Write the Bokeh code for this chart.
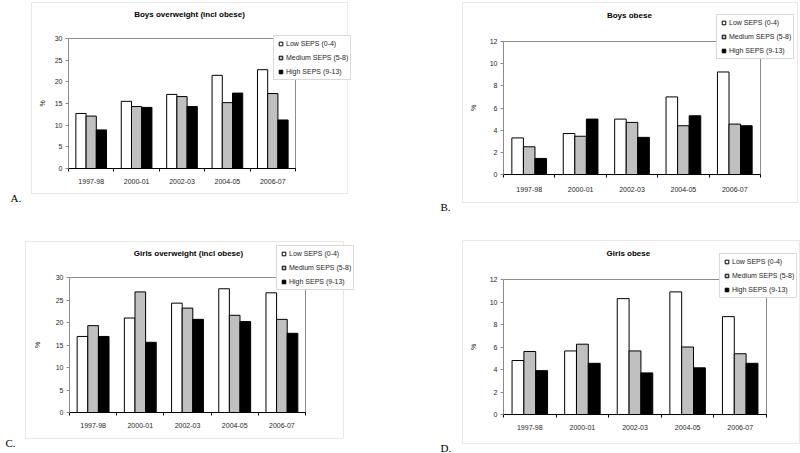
from bokeh.plotting import figure
from bokeh.models import (Range1d, Legend, LegendItem, Label,
                          BoxAnnotation, ColumnDataSource, FixedTicker, GridBox)
from bokeh.embed import file_html
from bokeh.resources import INLINE

years = ["1997-98", "2000-01", "2002-03", "2004-05", "2006-07"]
series_names = ["Low SEPS (0-4)", "Medium SEPS (5-8)", "High SEPS (9-13)"]

boys_ow_low = [12.7, 15.5, 17.1, 21.5, 22.8]
boys_ow_med = [12.1, 14.3, 16.6, 15.2, 17.3]
boys_ow_high = [8.9, 14.1, 14.3, 17.4, 11.2]

boys_ob_low = [3.3, 3.7, 5.0, 7.0, 9.25]
boys_ob_med = [2.5, 3.45, 4.7, 4.4, 4.55]
boys_ob_high = [1.45, 5.0, 3.35, 5.3, 4.4]

girls_ow_low = [16.9, 21.0, 24.3, 27.5, 26.6]
girls_ow_med = [19.3, 26.8, 23.2, 21.6, 20.7]
girls_ow_high = [16.9, 15.6, 20.7, 20.2, 17.6]

girls_ob_low = [4.8, 5.65, 10.3, 10.9, 8.7]
girls_ob_med = [5.6, 6.25, 5.65, 6.0, 5.4]
girls_ob_high = [3.9, 4.55, 3.7, 4.15, 4.55]

SANS = "Liberation Sans"
SERIF = "Liberation Serif"
W, H = 800, 453

# layout of each panel (page pixels)
panels = [
    dict(title="Boys overweight (incl obese)", vals=(boys_ow_low, boys_ow_med, boys_ow_high),
         ymax=30, ystep=5, letter="A.", cell=(0, 0), w=400, h=226,
         L=68, R=105, T=38, B=58, ylab_standoff=6, xlab_standoff=7,
         box=(31, 347, 2, 193), title_xy=(189, 14), leg_xy=(273, 38), letter_xy=(10, 197)),
    dict(title="Boys  obese", vals=(boys_ob_low, boys_ob_med, boys_ob_high),
         ymax=12, ystep=2, letter="B.", cell=(0, 1), w=400, h=226,
         L=103, R=40, T=41, B=52, ylab_standoff=10, xlab_standoff=9,
         box=(462, 797, 2, 202), title_xy=(630, 15), leg_xy=(716, 17), letter_xy=(440, 206)),
    dict(title="Girls overweight (incl obese)", vals=(girls_ow_low, girls_ow_med, girls_ow_high),
         ymax=30, ystep=5, letter="C.", cell=(1, 0), w=400, h=227,
         L=69, R=95, T=51, B=41, ylab_standoff=12, xlab_standoff=7,
         box=(25, 343, 241, 438), title_xy=(188, 253), leg_xy=(276, 248), letter_xy=(5, 442)),
    dict(title="Girls  obese", vals=(girls_ob_low, girls_ob_med, girls_ob_high),
         ymax=12, ystep=2, letter="D.", cell=(1, 1), w=400, h=227,
         L=103, R=34, T=53, B=39, ylab_standoff=10, xlab_standoff=7,
         box=(462, 799, 240, 443), title_xy=(629, 253), leg_xy=(719, 256), letter_xy=(440, 447)),
]

fills = ["#ffffff", "#c0c0c0", "#000000"]
offsets = [-0.225, 0.0, 0.225]
BAR_W = 0.225
LEG_H = 42
FRAME_GRAY = "#8c8c8c"
BOX_GRAY = "#b4b4b4"
TXT = "#1e1e1e"

n_years = len(years)
centers = [i + 0.5 for i in range(n_years)]          # category centres on the x scale
bounds = [float(i) for i in range(n_years + 1)]       # category boundaries (tick marks)


def make_chart(c):
    p = figure(width=c["w"], height=c["h"], x_range=Range1d(0, n_years),
               y_range=Range1d(0, c["ymax"]), output_backend="svg",
               toolbar_location=None, min_border_left=c["L"], min_border_right=c["R"],
               min_border_top=c["T"], min_border_bottom=c["B"])
    p.frame_align = False
    p.background_fill_color = "white"
    p.border_fill_color = "white"
    p.outline_line_color = FRAME_GRAY
    p.xgrid.grid_line_color = None
    p.ygrid.grid_line_color = None

    low, med, high = c["vals"]
    src = ColumnDataSource(dict(
        year=years, low=low, med=med, high=high,
        x_low=[x + offsets[0] for x in centers],
        x_med=[x + offsets[1] for x in centers],
        x_high=[x + offsets[2] for x in centers]))
    for key, col in zip(["low", "med", "high"], fills):
        p.vbar(x="x_" + key, top=key, width=BAR_W, source=src,
               fill_color=col, line_color="black", line_width=1)

    xa = p.xaxis[0]
    xa.ticker = FixedTicker(ticks=centers, minor_ticks=bounds)
    xa.major_label_overrides = {x: y for x, y in zip(centers, years)}
    xa.axis_line_color = "black"
    xa.major_tick_line_color = None
    xa.major_tick_out = 0
    xa.major_tick_in = 0
    xa.minor_tick_line_color = "black"
    xa.minor_tick_out = 3
    xa.minor_tick_in = 0
    xa.major_label_standoff = c["xlab_standoff"]
    xa.major_label_text_font = SANS
    xa.major_label_text_font_size = "7px"
    xa.major_label_text_color = TXT

    ya = p.yaxis[0]
    ya.ticker = FixedTicker(ticks=list(range(0, c["ymax"] + 1, c["ystep"])))
    ya.axis_line_color = FRAME_GRAY
    ya.major_tick_line_color = FRAME_GRAY
    ya.major_tick_out = 3
    ya.major_tick_in = 0
    ya.minor_tick_line_color = None
    ya.major_label_standoff = 3
    ya.major_label_text_font = SANS
    ya.major_label_text_font_size = "7px"
    ya.major_label_text_color = TXT
    ya.axis_label = "%"
    ya.axis_label_text_font = SANS
    ya.axis_label_text_font_size = "7px"
    ya.axis_label_text_font_style = "normal"
    ya.axis_label_text_color = TXT
    ya.axis_label_standoff = c["ylab_standoff"]
    return p


# transparent overlay carrying outer frames, titles, panel letters and legends
ov = figure(width=W, height=H, x_range=Range1d(0, W), y_range=Range1d(H, 0),
            output_backend="svg", toolbar_location=None,
            x_axis_location=None, y_axis_location=None,
            min_border=0, min_border_left=0, min_border_right=0,
            min_border_top=0, min_border_bottom=0)
ov.frame_align = False
ov.background_fill_color = None
ov.border_fill_color = None
ov.outline_line_color = None
ov.xgrid.grid_line_color = None
ov.ygrid.grid_line_color = None

# legend key proxies (hidden renderers; only their legend swatches are shown)
key_renderers = []
for col in fills:
    r = ov.scatter(x=[0], y=[0], marker="square", size=5, fill_color=col,
                   line_color="black", line_width=1)
    r.visible = False
    key_renderers.append(r)

children = []
for c in panels:
    chart = make_chart(c)
    children.append((chart, c["cell"][0], c["cell"][1]))

    bx0, bx1, by0, by1 = c["box"]
    ov.add_layout(BoxAnnotation(left=bx0, right=bx1, top=by0, bottom=by1,
                                fill_color=None, fill_alpha=0, line_color=BOX_GRAY,
                                line_width=1))
    tx, ty = c["title_xy"]
    ov.add_layout(Label(x=tx, y=ty, text=c["title"], text_font=SANS, text_font_size="8px",
                        text_font_style="bold", text_align="center",
                        text_baseline="middle", text_color="black"))
    lx, ly = c["letter_xy"]
    ov.add_layout(Label(x=lx, y=ly, text=c["letter"], text_font=SERIF,
                        text_font_size="11px", text_align="left",
                        text_baseline="alphabetic", text_color="black"))
    gx, gy = c["leg_xy"]
    ov.add_layout(Legend(items=[LegendItem(label=n, renderers=[r])
                                for n, r in zip(series_names, key_renderers)],
                         location=(gx, H - (gy + LEG_H)), margin=0, padding=2,
                         spacing=3, label_height=11, label_width=10, glyph_height=11,
                         glyph_width=9, label_standoff=1,
                         label_text_font=SANS, label_text_font_size="7px",
                         label_text_color=TXT, border_line_color=BOX_GRAY,
                         background_fill_color="white", background_fill_alpha=1,
                         inactive_fill_alpha=0, click_policy="none"),
                  "center")

children.append((ov, 0, 0, 2, 2))
layout = GridBox(children=children)

open("out.html", "w").write(file_html(layout, INLINE))
